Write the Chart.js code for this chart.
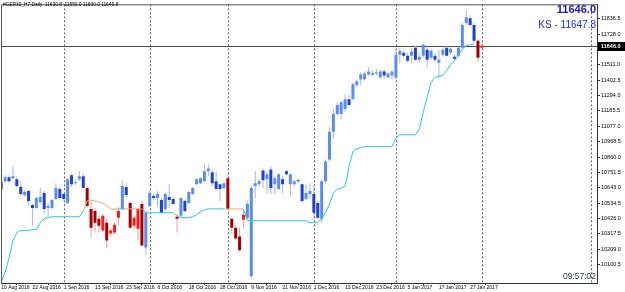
<!DOCTYPE html>
<html>
<head>
<meta charset="utf-8">
<script src="https://cdn.jsdelivr.net/npm/chart.js@4.4.0/dist/chart.umd.min.js"></script>
<style>
  html, body { margin: 0; padding: 0; background: #fff; }
</style>
</head>
<body>
<canvas id="chart" width="625" height="292"></canvas>
<script>
// Daily bars, 10 Aug 2016 .. 1 Feb 2017 (index 0 .. 123)
const dateLabels = ['10 Aug 2016', '22 Aug 2016', '1 Sep 2016', '13 Sep 2016', '23 Sep 2016', '6 Oct 2016',
  '18 Oct 2016', '28 Oct 2016', '9 Nov 2016', '21 Nov 2016', '1 Dec 2016', '13 Dec 2016', '23 Dec 2016',
  '5 Jan 2017', '17 Jan 2017', '27 Jan 2017'];
const dateTickIndex = [0, 8, 16, 24, 32, 40, 48, 56, 64, 72, 80, 88, 96, 104, 112, 120];

const opens = [10683, 10690, 10718, 10711, 10704, 10648, 10592, 10620, 10522, 10501,
  10543, 10606, 10501, 10501, 10564, 10634, 10599, 10536, 10731, 10676,
  10704, 10724, 10641, 10494, 10480, 10425, 10341, 10397, 10320, 10327,
  10432, 10494, 10648, 10536, 10376, 10355, 10529, 10222, 10515, 10585,
  10571, 10557, 10494, 10578, 10564, 10439, 10446, 10550, 10536, 10599,
  10669, 10676, 10690, 10759, 10752, 10690, 10669, 10641, 10711, 10425,
  10362, 10299, 10418, 10432, 10020, 10655, 10669, 10766, 10704, 10773,
  10669, 10634, 10704, 10759, 10669, 10669, 10697, 10669, 10564, 10599,
  10599, 10536, 10425, 10690, 10843, 11038, 11164, 11164, 11199, 11268,
  11268, 11366, 11408, 11408, 11443, 11450, 11450, 11422, 11464, 11422,
  11436, 11422, 11582, 11596, 11575, 11575, 11631, 11547, 11575, 11617,
  11561, 11575, 11526, 11582, 11631, 11596, 11568, 11575, 11631, 11805,
  11840, 11791, 11680, 11631];
const highs = [10697, 10731, 10731, 10794, 10724, 10690, 10627, 10627, 10529, 10578,
  10641, 10620, 10536, 10564, 10676, 10648, 10606, 10711, 10745, 10704,
  10759, 10745, 10655, 10550, 10501, 10446, 10460, 10425, 10355, 10397,
  10508, 10697, 10676, 10550, 10446, 10501, 10550, 10480, 10620, 10599,
  10620, 10571, 10606, 10669, 10578, 10460, 10578, 10557, 10620, 10648,
  10711, 10718, 10808, 10808, 10773, 10759, 10676, 10683, 10738, 10432,
  10383, 10362, 10480, 10550, 10655, 10759, 10704, 10780, 10759, 10794,
  10724, 10745, 10724, 10773, 10745, 10697, 10711, 10676, 10669, 10676,
  10655, 10550, 10704, 10843, 11073, 11199, 11247, 11261, 11303, 11296,
  11387, 11408, 11457, 11464, 11491, 11471, 11485, 11478, 11478, 11457,
  11471, 11631, 11631, 11610, 11596, 11631, 11645, 11596, 11659, 11638,
  11624, 11596, 11617, 11631, 11645, 11638, 11582, 11638, 11805, 11896,
  11861, 11805, 11694, 11650];
const lows = [10620, 10676, 10676, 10704, 10641, 10585, 10578, 10515, 10376, 10494,
  10529, 10460, 10432, 10494, 10557, 10564, 10550, 10529, 10648, 10662,
  10690, 10634, 10508, 10292, 10327, 10327, 10327, 10216, 10299, 10313,
  10376, 10487, 10578, 10355, 10348, 10271, 10229, 10167, 10508, 10557,
  10515, 10460, 10480, 10501, 10522, 10327, 10439, 10467, 10529, 10592,
  10662, 10669, 10683, 10724, 10655, 10627, 10550, 10627, 10487, 10320,
  10271, 10188, 10362, 10425, 10006, 10571, 10655, 10641, 10599, 10599,
  10599, 10627, 10606, 10731, 10585, 10655, 10676, 10536, 10557, 10564,
  10411, 10425, 10397, 10676, 10829, 10989, 11157, 11129, 11178, 11220,
  11261, 11352, 11366, 11401, 11436, 11436, 11436, 11415, 11408, 11415,
  11408, 11408, 11526, 11561, 11526, 11526, 11540, 11526, 11561, 11491,
  11547, 11526, 11422, 11568, 11568, 11582, 11540, 11568, 11624, 11791,
  11777, 11666, 11533, 11630];
const closes = [10634, 10718, 10690, 10724, 10655, 10599, 10613, 10550, 10501, 10571,
  10578, 10494, 10515, 10557, 10641, 10571, 10564, 10704, 10669, 10683,
  10724, 10641, 10515, 10362, 10397, 10376, 10446, 10271, 10341, 10383,
  10480, 10655, 10592, 10362, 10432, 10494, 10236, 10467, 10606, 10571,
  10599, 10467, 10599, 10557, 10529, 10425, 10571, 10480, 10613, 10641,
  10704, 10711, 10759, 10780, 10676, 10634, 10634, 10676, 10494, 10362,
  10285, 10202, 10453, 10529, 10641, 10676, 10690, 10697, 10738, 10641,
  10711, 10738, 10669, 10738, 10738, 10690, 10690, 10550, 10606, 10620,
  10467, 10432, 10690, 10829, 11038, 11164, 11227, 11247, 11268, 11227,
  11373, 11394, 11443, 11450, 11464, 11443, 11457, 11464, 11436, 11450,
  11464, 11582, 11610, 11575, 11540, 11603, 11547, 11568, 11652, 11547,
  11610, 11547, 11547, 11617, 11575, 11624, 11554, 11631, 11791, 11847,
  11791, 11680, 11561, 11646];

// trailing stop indicator and its direction (1 = up, -1 = down)
const stopLine = [9978, 10048, 10146, 10271, 10327, 10341, 10341, 10341, 10348, 10348,
  10397, 10425, 10432, 10439, 10439, 10439, 10439, 10439, 10439, 10439,
  10439, 10480, 10550, 10557, 10550, 10543, 10536, 10515, 10494, 10494,
  10494, 10494, 10494, 10494, 10494, 10494, 10494, 10467, 10467, 10467,
  10467, 10467, 10467, 10467, 10467, 10446, 10432, 10432, 10432, 10439,
  10453, 10474, 10487, 10494, 10494, 10494, 10494, 10494, 10494, 10494,
  10494, 10494, 10494, 10411, 10411, 10411, 10411, 10411, 10411, 10411,
  10411, 10411, 10411, 10411, 10411, 10411, 10411, 10411, 10411, 10397,
  10397, 10397, 10425, 10467, 10529, 10606, 10634, 10641, 10655, 10794,
  10899, 10920, 10927, 10934, 10934, 10934, 10934, 10934, 10934, 10934,
  10934, 10996, 11017, 11017, 11017, 11017, 11017, 11059, 11178, 11282,
  11387, 11422, 11429, 11436, 11471, 11512, 11540, 11575, 11624, 11645,
  11652, 11659, null, null];
const trend = [1, 1, 1, 1, 1, 1, 1, 1, 1, 1,
  1, 1, 1, 1, 1, 1, 1, 1, 1, 1,
  1, 1, -1, -1, -1, -1, -1, -1, -1, -1,
  -1, 1, 1, -1, -1, -1, -1, 1, 1, 1,
  1, 1, 1, 1, 1, -1, 1, 1, 1, 1,
  1, 1, 1, 1, 1, 1, 1, 1, -1, -1,
  -1, -1, -1, 1, 1, 1, 1, 1, 1, 1,
  1, 1, 1, 1, 1, 1, 1, 1, 1, 1,
  1, 1, 1, 1, 1, 1, 1, 1, 1, 1,
  1, 1, 1, 1, 1, 1, 1, 1, 1, 1,
  1, 1, 1, 1, 1, 1, 1, 1, 1, 1,
  1, 1, 1, 1, 1, 1, 1, 1, 1, 1,
  1, 1, -1, -1];

const priceTicks = [11836.5, 11728.0, 11619.5, 11511.0, 11402.5, 11294.0, 11185.5, 11077.0, 10968.5,
  10860.0, 10751.5, 10643.0, 10534.5, 10426.0, 10317.5, 10209.0, 10100.5];
const separators = [16, 38, 58, 80, 101, 123, 151];
const lastPrice = 11646.0;
const ksPrice = 11647.8;
const headerText = '#GER30_H7,Daily  11630.8  11650.0 11630.0 11646.8';
const clockText = '09:57:02';

const UP_BULL = '#5b8def', UP_BEAR = '#1f40d2', DN_BULL = '#ff1a1a', DN_BEAR = '#a50000';
const UP_WICK = '#9fb9ef', DN_WICK = '#ef9f9f';

function bodyColor(i) {
  const bull = closes[i] >= opens[i];
  if (trend[i] > 0) return bull ? UP_BULL : UP_BEAR;
  return bull ? DN_BULL : DN_BEAR;
}

const overlay = {
  id: 'overlay',
  beforeDatasetsDraw(chart) {
    const {ctx, chartArea: a, scales: {x, y}} = chart;
    ctx.save();
    // month separators
    ctx.strokeStyle = '#666';
    ctx.lineWidth = 1;
    ctx.setLineDash([2, 2]);
    separators.forEach(i => {
      const px = Math.round(x.getPixelForValue(i)) + 0.5;
      ctx.beginPath();
      ctx.moveTo(px, a.top);
      ctx.lineTo(px, a.bottom);
      ctx.stroke();
    });
    ctx.setLineDash([]);
    // bid line
    const py = Math.round(y.getPixelForValue(lastPrice)) + 0.5;
    ctx.strokeStyle = '#505050';
    ctx.beginPath();
    ctx.moveTo(a.left, py);
    ctx.lineTo(a.right, py);
    ctx.stroke();
    ctx.restore();
  },
  afterDraw(chart) {
    const {ctx, chartArea: a, scales: {y}} = chart;
    ctx.save();
    // frame
    ctx.strokeStyle = '#555';
    ctx.lineWidth = 1;
    ctx.beginPath();
    ctx.moveTo(a.left + 0.5, a.bottom);
    ctx.lineTo(a.left + 0.5, a.top + 0.5);
    ctx.lineTo(a.right, a.top + 0.5);
    ctx.stroke();

    // header
    ctx.fillStyle = '#000';
    ctx.font = '4.8px "Liberation Sans"';
    ctx.textBaseline = 'middle';
    ctx.textAlign = 'left';
    ctx.fillText(headerText, a.left + 2, 5);

    // price readouts top right
    ctx.textAlign = 'right';
    ctx.fillStyle = '#1515e0';
    ctx.font = 'bold 11px "Liberation Sans"';
    ctx.fillText(lastPrice.toFixed(1), a.right - 1, 9.5);
    ctx.fillStyle = '#1a2cff';
    ctx.font = '10px "Liberation Sans"';
    ctx.fillText('KS - ' + ksPrice.toFixed(1), a.right - 1, 25);

    // clock
    ctx.fillStyle = '#2c3c5c';
    ctx.font = '8.5px "Liberation Sans"';
    ctx.fillText(clockText, a.right - 1, a.bottom - 6);

    // price box on axis
    const py = Math.round(y.getPixelForValue(lastPrice));
    ctx.fillStyle = '#000';
    ctx.fillRect(a.right + 1, py - 4, chart.width - a.right - 1, 9);
    ctx.fillStyle = '#fff';
    ctx.textAlign = 'left';
    ctx.font = 'bold 5.5px "Liberation Sans"';
    ctx.fillText(lastPrice.toFixed(1), a.right + 4, py + 0.5);
    ctx.restore();
  }
};

const idx = opens.map((_, i) => i);

new Chart(document.getElementById('chart'), {
  type: 'bar',
  data: {
    datasets: [
      {
        type: 'line',
        data: idx.map(i => ({x: i, y: stopLine[i]})),
        borderWidth: 1,
        pointRadius: 0,
        tension: 0,
        spanGaps: false,
        borderColor: '#2cc3f3',
        segment: {
          borderColor: c => trend[c.p1DataIndex] < 0 ? '#f4a874' : '#2cc3f3'
        },
        order: 0
      },
      {
        data: idx.map(i => ({x: i, y: [opens[i], closes[i]]})),
        barThickness: 3,
        minBarLength: 1,
        grouped: false,
        inflateAmount: 0,
        borderWidth: 0,
        backgroundColor: c => bodyColor(c.dataIndex),
        order: 1
      },
      {
        data: idx.map(i => ({x: i, y: [lows[i], highs[i]]})),
        barThickness: 1,
        grouped: false,
        inflateAmount: 0,
        borderWidth: 0,
        backgroundColor: c => trend[c.dataIndex] > 0 ? UP_WICK : DN_WICK,
        order: 2
      }
    ]
  },
  options: {
    responsive: false,
    animation: false,
    devicePixelRatio: 1,
    layout: { padding: { left: 1, top: 1, right: 0, bottom: 0 } },
    plugins: { legend: { display: false }, tooltip: { enabled: false } },
    font: { family: 'Liberation Sans' },
    scales: {
      x: {
        type: 'linear',
        offset: false,
        min: -0.05,
        max: 152.46,
        afterBuildTicks: s => { s.ticks = dateTickIndex.map(v => ({value: v})); },
        afterFit: s => { s.height = 9; },
        ticks: {
          autoSkip: false,
          maxRotation: 0,
          align: 'start',
          padding: 0,
          color: '#000',
          font: { size: 5, family: 'Liberation Sans' },
          callback: v => dateLabels[dateTickIndex.indexOf(v)]
        },
        grid: { drawOnChartArea: false, drawTicks: true, tickLength: 2, color: '#333' },
        border: { display: true, color: '#333' }
      },
      y: {
        position: 'right',
        min: 9971.5,
        max: 11937.6,
        afterBuildTicks: s => { s.ticks = priceTicks.map(v => ({value: v})); },
        afterFit: s => { s.width = 28; },
        ticks: {
          padding: 1,
          color: '#000',
          font: { size: 5.5, family: 'Liberation Sans' },
          callback: v => v.toFixed(1)
        },
        grid: { drawOnChartArea: false, drawTicks: true, tickLength: 3, color: '#333' },
        border: { display: true, color: '#333' }
      }
    }
  },
  plugins: [overlay]
});
</script>
</body>
</html>
